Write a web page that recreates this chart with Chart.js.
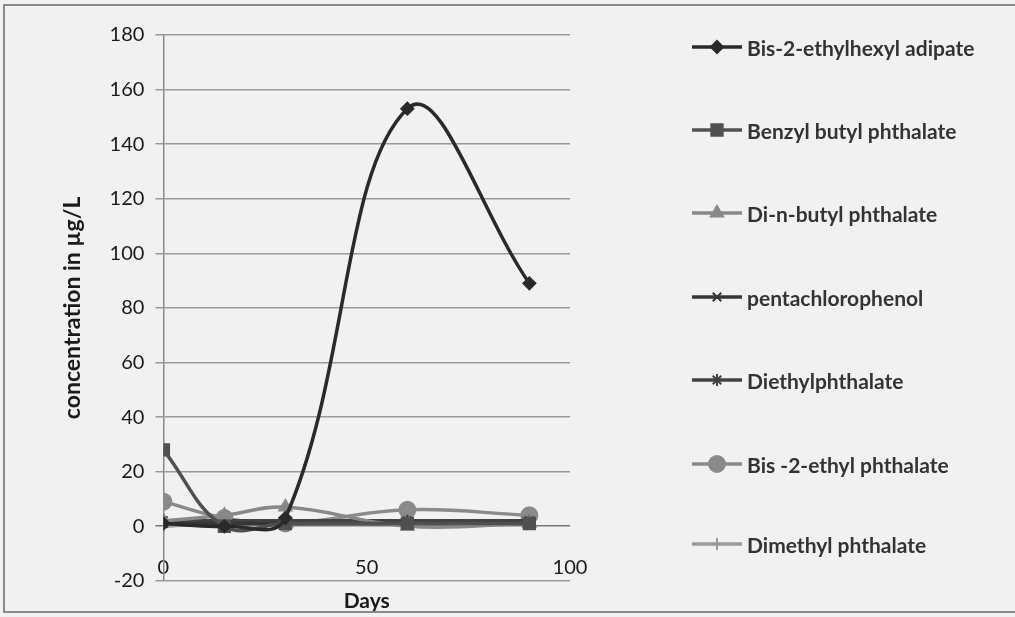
<html>
<head>
<script src="https://cdn.jsdelivr.net/npm/chart.js@4/dist/chart.umd.min.js"></script>
<style>
  body { margin: 0; background: #f1f1f1; }
  #wrap { position: relative; width: 1015px; height: 617px; overflow: hidden; }
  #frame { position: absolute; left: 3px; top: 4px; width: 1030px; height: 609px; border: 2px solid #8a8a8a; box-sizing: border-box; }
  #legend { position: absolute; left: 692px; top: 0; }
  .item { position: absolute; left: 0; height: 24px; white-space: nowrap; display: flex; align-items: center;
          font-family: Lato; font-weight: bold; font-size: 21px; color: #333; }
  .item canvas { margin-right: 5px; }
</style>
</head>
<body>
<div id="wrap">
  <div id="frame"></div>
  <canvas id="myChart" width="1015" height="617"></canvas>
  <div id="legend"></div>
</div>
<script>
// sampling days
var days = [0, 15, 30, 60, 90];

// concentrations in µg/L
var adipate   = [1, 0, 3, 153, 89];
var benzyl    = [28, 0, 1, 1, 1];
var dinbutyl  = [2, 4, 7, 0, 1];
var penta     = [1, 1, 1, 1, 1];
var diethyl   = [2, 2, 2, 2, 2];
var bis2ethyl = [9, 3, 1, 6, 4];
var dimethyl  = [0, 1, 1, 1, 1];

var names  = ["Bis-2-ethylhexyl adipate", "Benzyl butyl phthalate", "Di-n-butyl phthalate",
              "pentachlorophenol", "Diethylphthalate", "Bis -2-ethyl phthalate", "Dimethyl phthalate"];
var series = [adipate, benzyl, dinbutyl, penta, diethyl, bis2ethyl, dimethyl];
var colors = ["#2a2a2a", "#505050", "#888888", "#363636", "#424242", "#8a8a8a", "#9a9a9a"];
var marks  = ["rectRot", "rect", "triangle", "crossRot", "star", "circle", "cross"];
var sizes  = [6, 8, 7, 6, 6, 8, 6];

function pts(vals) {
    var out = [];
    for (var i = 0; i < days.length; i++) out.push({ x: days[i], y: vals[i] });
    return out;
}

var datasets = [];
for (var i = 0; i < series.length; i++) {
    datasets.push({
        label: names[i],
        data: pts(series[i]),
        borderColor: colors[i],
        backgroundColor: colors[i],
        borderWidth: 3.5,
        tension: 0.4,
        pointStyle: marks[i],
        pointRadius: sizes[i],
        pointBorderWidth: 2
    });
}

var chart = new Chart("myChart", {
    type: "line",
    data: { datasets: datasets },
    options: {
        responsive: false,
        animation: false,
        layout: { padding: { left: 55, top: 35, right: 445, bottom: 2 } },
        plugins: {
            legend: { display: false },
            tooltip: { enabled: false }
        },
        scales: {
            x: {
                type: "linear",
                min: 0, max: 100,
                ticks: { stepSize: 50, mirror: true, padding: 1, color: "#1a1a1a", font: { family: "Lato", size: 20 } },
                grid: { display: false, drawTicks: false },
                border: { display: false },
                title: { display: true, text: "Days", color: "#1a1a1a", padding: { top: 6, bottom: 1 },
                         font: { family: "Lato", weight: "bold", size: 21 } }
            },
            y: {
                min: -20, max: 180,
                ticks: { stepSize: 20, padding: 11, color: "#1a1a1a", font: { family: "Lato", size: 20 } },
                grid: { color: function (c) { return c.tick && c.tick.value === 0 ? "#777" : "#9a9a9a"; },
                        lineWidth: 1.5, tickLength: 8 },
                border: { display: true, color: "#8a8a8a", width: 1.5 },
                title: { display: true, text: "concentration in µg/L", color: "#1a1a1a", padding: { top: 4, bottom: 12 },
                         font: { family: "Lato", weight: "bold", size: 23 } }
            }
        }
    }
});

// legend built from the chart's datasets: line + marker icon, then the name
var legendTops = [47, 130, 213, 297, 380, 464, 544];
var box = document.getElementById("legend");
chart.data.datasets.forEach(function (ds, k) {
    var row = document.createElement("div");
    row.className = "item";
    row.style.top = (legendTops[k] - 12) + "px";
    var c = document.createElement("canvas");
    c.width = 50; c.height = 20;
    var ctx = c.getContext("2d");
    ctx.strokeStyle = ds.borderColor;
    ctx.lineWidth = 3.5;
    ctx.beginPath(); ctx.moveTo(0, 10); ctx.lineTo(50, 10); ctx.stroke();
    ctx.fillStyle = ds.borderColor;
    ctx.lineWidth = 2;
    Chart.helpers.drawPoint(ctx, { pointStyle: ds.pointStyle, radius: ds.pointRadius, borderWidth: 2, rotation: 0 }, 25, 10);
    row.appendChild(c);
    var t = document.createElement("span");
    t.textContent = ds.label;
    row.appendChild(t);
    box.appendChild(row);
});
</script>
</body>
</html>
